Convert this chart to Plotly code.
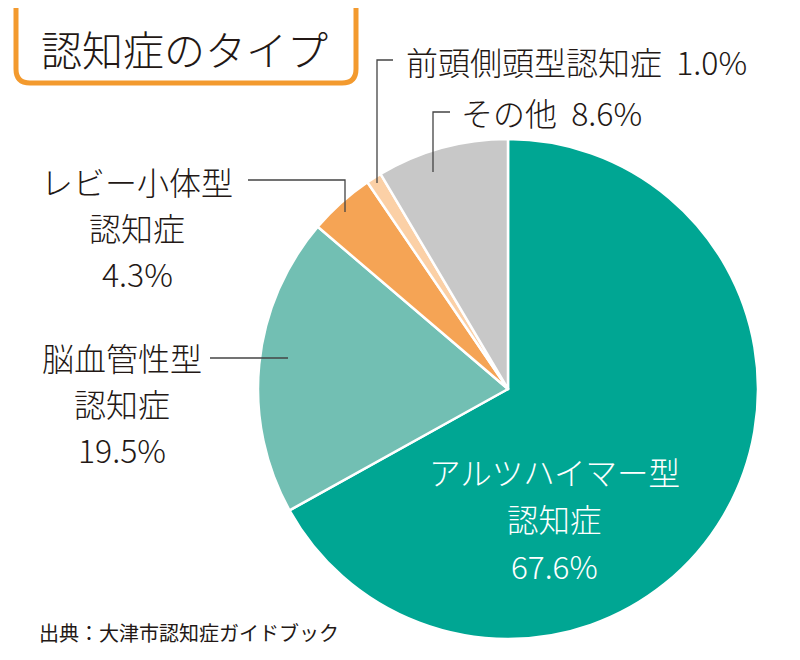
import plotly.graph_objects as go

W, H = 800, 660
OFF = 8  # page body margin offset in the screenshot

# ---- data ----
categories = ["アルツハイマー型認知症", "脳血管性型認知症", "レビー小体型認知症", "前頭側頭型認知症", "その他"]
values = [67.6, 19.5, 4.3, 1.0, 8.6]
colors = ["#00a693", "#72bfb3", "#f5a455", "#fbd0a6", "#c8c8c8"]
title_text = "認知症のタイプ"
source_text = "出典：大津市認知症ガイドブック"
alz_lines = ["アルツハイマー型", "認知症", "67.6%"]
vas_lines = ["脳血管性型", "認知症", "19.5%"]
lewy_lines = ["レビー小体型", "認知症", "4.3%"]
ftd_label = "前頭側頭型認知症  1.0%"
other_label = "その他  8.6%"

FONT = "Noto Sans CJK JP"
TXT = "#231815"
LINE = "#444444"


def px(x):
    return (x - OFF) / W


def py(y):
    return 1 - (y - OFF) / H


cx, cy, r = 508, 389, 250

fig = go.Figure(go.Pie(
    labels=categories,
    values=values,
    marker=dict(colors=colors, line=dict(color="white", width=2.5)),
    sort=False,
    direction="clockwise",
    rotation=0,
    textinfo="none",
    hoverinfo="label+percent",
    showlegend=False,
    domain=dict(x=[px(cx - r), px(cx + r)], y=[py(cy + r), py(cy - r)]),
))

ann = []


def add_text(x, y, s, size=32, color=TXT, xanchor="center", weight=300):
    ann.append(dict(x=px(x), y=py(y), xref="paper", yref="paper", text=s,
                    showarrow=False, xanchor=xanchor, yanchor="middle",
                    font=dict(family=FONT, size=size, color=color, weight=weight)))


for i, s in enumerate(alz_lines):
    add_text(554, 471 + i * 47, s, size=31.5, color="white")
for i, s in enumerate(vas_lines):
    add_text(122, 357 + i * 46, s)
for i, s in enumerate(lewy_lines):
    add_text(137, 181 + i * 46, s)
add_text(404, 61, ftd_label, xanchor="left")
add_text(459, 112, other_label, xanchor="left")
add_text(184, 48, title_text, size=41)
add_text(37, 632, source_text, size=20, xanchor="left", weight=400)

shapes = []


def seg(pts, color=LINE, width=1.3):
    path = "M " + " L ".join(f"{px(x)},{py(y)}" for x, y in pts)
    shapes.append(dict(type="path", path=path, xref="paper", yref="paper",
                       line=dict(color=color, width=width)))


seg([(393, 60), (377, 60), (377, 183)])
seg([(450, 112), (433, 112), (433, 172)])
seg([(248, 180), (345, 180), (345, 212)])
seg([(210, 358), (288, 358)])

# title bracket (orange, open top, rounded corners)
rr = 14
L, R, T, B = 16, 356, 8, 83
bracket = (f"M {px(L)},{py(T)} L {px(L)},{py(B - rr)} "
           f"Q {px(L)},{py(B)} {px(L + rr)},{py(B)} "
           f"L {px(R - rr)},{py(B)} "
           f"Q {px(R)},{py(B)} {px(R)},{py(B - rr)} "
           f"L {px(R)},{py(T)}")
shapes.append(dict(type="path", path=bracket, xref="paper", yref="paper",
                   line=dict(color="#f39a2e", width=5)))

fig.update_layout(
    width=W, height=H,
    margin=dict(l=0, r=0, t=0, b=0),
    paper_bgcolor="white", plot_bgcolor="white",
    annotations=ann, shapes=shapes,
    font=dict(family=FONT, color=TXT),
)

fig.write_html("out.html")
